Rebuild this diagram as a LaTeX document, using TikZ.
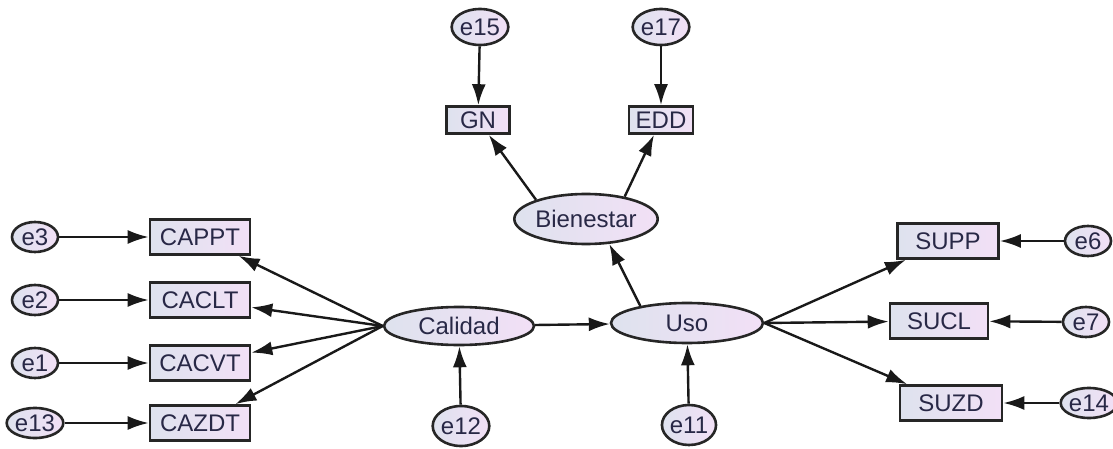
\documentclass[tikz,border=0pt]{standalone}
\usepackage{fontspec}
\setmainfont{Liberation Sans}
\usetikzlibrary{arrows.meta,shapes.geometric}
\definecolor{txt}{RGB}{40,40,70}
\definecolor{lfill}{RGB}{222,226,238}
\definecolor{rfill}{RGB}{242,224,246}
\tikzset{
  obs/.style={draw=black!85, line width=2.6pt, rectangle, inner sep=0pt, left color=lfill, right color=rfill, text=txt, font=\fontsize{24}{24}\selectfont},
  lat/.style={draw=black!85, line width=2.6pt, ellipse, inner sep=0pt, left color=lfill, right color=rfill, text=txt, font=\fontsize{24}{24}\selectfont},
  err/.style={draw=black!85, line width=2.6pt, ellipse, inner sep=0pt, minimum width=46pt, minimum height=30pt, left color=lfill, right color=rfill, text=txt, font=\fontsize{24}{24}\selectfont},
  arr/.style={draw=black!90, line width=2.4pt, -{Latex[length=21pt,width=14pt]}},
}
\begin{document}
\begin{tikzpicture}[x=1pt,y=-1pt]
\useasboundingbox (0,0) rectangle (1113,449);
% observed left
\node[obs, minimum width=100pt, minimum height=35pt] (capp) at (200,237) {CAPPT};
\node[obs, minimum width=100pt, minimum height=35pt] (cacl) at (200,300) {CACLT};
\node[obs, minimum width=100pt, minimum height=35pt] (cacv) at (200,363) {CACVT};
\node[obs, minimum width=100pt, minimum height=35pt] (cazd) at (200,423) {CAZDT};
\node[err] (e3) at (35,237) {e3};
\node[err] (e2) at (35,300) {e2};
\node[err] (e1) at (35,363) {e1};
\node[err] (e13) at (35,423) {e13};
% latent
\node[lat, minimum width=150pt, minimum height=38pt] (cal) at (459,326) {Calidad};
\node[lat, minimum width=152pt, minimum height=40pt] (uso) at (687,323) {Uso};
\node[lat, minimum width=128pt, minimum height=50pt] (bie) at (586,219) {Bienestar};
\node[err, minimum width=52pt, minimum height=40pt] (e12) at (461,426) {e12};
\node[err, minimum width=50pt, minimum height=40pt] (e11) at (689,425) {e11};
% top
\node[obs, minimum width=63pt, minimum height=27pt] (gn) at (478,120) {GN};
\node[obs, minimum width=64pt, minimum height=27pt] (edd) at (661,120) {EDD};
\node[err, minimum width=54pt, minimum height=36pt] (e15) at (480,27) {e15};
\node[err, minimum width=54pt, minimum height=36pt] (e17) at (661,27) {e17};
% right
\node[obs, minimum width=101pt, minimum height=35pt] (supp) at (948,241) {SUPP};
\node[obs, minimum width=98pt, minimum height=35pt] (sucl) at (939,321) {SUCL};
\node[obs, minimum width=102pt, minimum height=35pt] (suzd) at (951,403) {SUZD};
\node[err] (e6) at (1088,241) {e6};
\node[err] (e7) at (1086,322) {e7};
\node[err] (e14) at (1089,403) {e14};
% connectors
\draw[arr] (e3) -- (capp);
\draw[arr] (e2) -- (cacl);
\draw[arr] (e1) -- (cacv);
\draw[arr] (e13) -- (cazd);
\draw[arr] (cal.west) -- (capp);
\draw[arr] (cal.west) -- (cacl);
\draw[arr] (cal.west) -- (cacv);
\draw[arr] (cal.west) -- (cazd);
\draw[arr] (cal) -- (uso);
\draw[arr] (e12) -- (cal);
\draw[arr] (e11) -- (uso);
\draw[arr] (uso.160) -- (bie.-47);
\draw[arr] (bie.159) -- (gn);
\draw[arr] (bie.30) -- (edd);
\draw[arr] (e15) -- (gn);
\draw[arr] (e17) -- (edd);
\draw[arr] (uso.east) -- (supp);
\draw[arr] (uso.east) -- (sucl);
\draw[arr] (uso.east) -- (suzd);
\draw[arr] (e6) -- (supp);
\draw[arr] (e7) -- (sucl);
\draw[arr] (e14) -- (suzd);
\end{tikzpicture}
\end{document}
